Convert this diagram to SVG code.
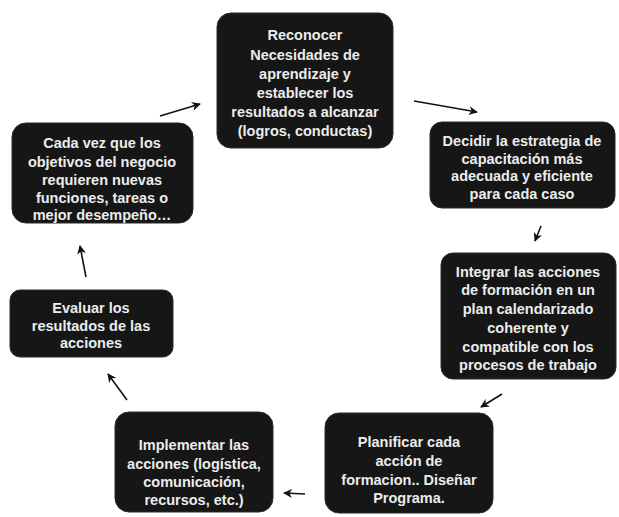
<svg xmlns="http://www.w3.org/2000/svg" width="619" height="517" viewBox="0 0 619 517">
<style>
.box{fill:#161616;stroke:#2a2a2a;stroke-width:1}
.t{font-family:"Liberation Sans",Arial,sans-serif;font-size:14.5px;font-weight:bold;fill:#ececec;text-anchor:middle;dominant-baseline:central}
.c{stroke:#111;stroke-width:1.6;fill:none;marker-end:url(#ah)}
</style>
<defs>
<marker id="ah" viewBox="0 0 10 10" refX="9" refY="5" markerWidth="9" markerHeight="9" markerUnits="userSpaceOnUse" orient="auto">
<path d="M0,0 L10,5 L0,10 L3,5 Z" fill="#111"/>
</marker>
</defs>
<rect width="619" height="517" fill="#ffffff"/>
<g id="n1">
<rect class="box" x="217" y="13" width="176" height="135" rx="14"/>
<text class="t" x="305" y="35">Reconocer</text>
<text class="t" x="305" y="55">Necesidades de</text>
<text class="t" x="305" y="74">aprendizaje y</text>
<text class="t" x="305" y="93">establecer los</text>
<text class="t" x="305" y="112">resultados a alcanzar</text>
<text class="t" x="305" y="131">(logros, conductas)</text>
</g>
<g id="n2">
<rect class="box" x="430" y="122" width="185" height="86" rx="12"/>
<text class="t" x="522" y="141">Decidir la estrategia de</text>
<text class="t" x="522" y="159">capacitación más</text>
<text class="t" x="522" y="176">adecuada y eficiente</text>
<text class="t" x="522" y="194">para cada caso</text>
</g>
<g id="n3">
<rect class="box" x="441" y="253" width="175" height="126" rx="12"/>
<text class="t" x="528" y="272">Integrar las acciones</text>
<text class="t" x="528" y="290">de formación en un</text>
<text class="t" x="528" y="309">plan calendarizado</text>
<text class="t" x="528" y="328">coherente  y</text>
<text class="t" x="528" y="347">compatible con los</text>
<text class="t" x="528" y="365">procesos de trabajo</text>
</g>
<g id="n4">
<rect class="box" x="325" y="413" width="168" height="100" rx="14"/>
<text class="t" x="409" y="442">Planificar cada</text>
<text class="t" x="409" y="461">acción de</text>
<text class="t" x="409" y="480">formacion.. Diseñar</text>
<text class="t" x="409" y="498">Programa.</text>
</g>
<g id="n5">
<rect class="box" x="115" y="412" width="158" height="100" rx="14"/>
<text class="t" x="194" y="445">Implementar las</text>
<text class="t" x="194" y="464">acciones (logística,</text>
<text class="t" x="194" y="482">comunicación,</text>
<text class="t" x="194" y="500">recursos, etc.)</text>
</g>
<g id="n6">
<rect class="box" x="10" y="290" width="163" height="67" rx="10"/>
<text class="t" x="91" y="308">Evaluar los</text>
<text class="t" x="91" y="326">resultados de las</text>
<text class="t" x="91" y="343">acciones</text>
</g>
<g id="n7">
<rect class="box" x="12" y="123" width="181" height="100" rx="14"/>
<text class="t" x="102" y="143">Cada vez que los</text>
<text class="t" x="102" y="162">objetivos del negocio</text>
<text class="t" x="102" y="180">requieren nuevas</text>
<text class="t" x="102" y="198">funciones, tareas o</text>
<text class="t" x="102" y="215">mejor desempeño…</text>
</g>
<g id="connectors">
<path class="c" d="M160,116 L200,104"/>
<path class="c" d="M414,101 L477,112"/>
<path class="c" d="M541,226 L535,241"/>
<path class="c" d="M502,394 L481,407"/>
<path class="c" d="M305,494 L284,493"/>
<path class="c" d="M127,400 L108,374"/>
<path class="c" d="M86,277 L80,246"/>
</g>
</svg>
